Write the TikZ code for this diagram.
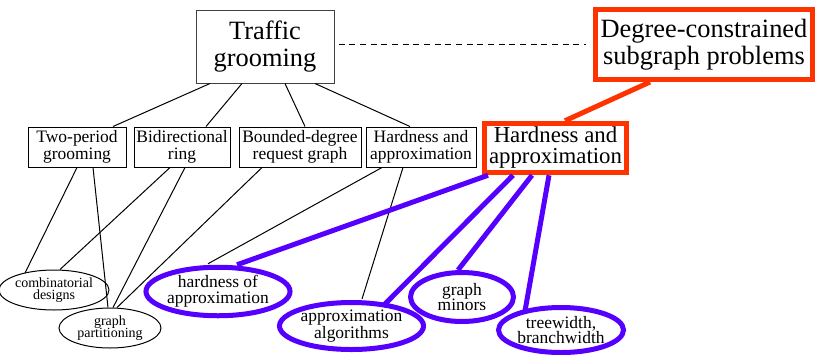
\documentclass[tikz,border=0pt]{standalone}
\usepackage{fontspec}
\setmainfont{Liberation Serif}
\newfontfamily\timesface{Liberation Serif}
\usetikzlibrary{shapes.geometric,calc}
\definecolor{hotred}{RGB}{255,51,0}
\definecolor{violetblue}{RGB}{85,0,255}
\def\px{0.75pt}
\tikzset{
  topbox/.style={draw=black!75, line width=0.75pt, inner sep=0pt, align=center,
    font=\timesface\fontsize{19.8}{20.7}\selectfont},
  redbox/.style={draw=hotred, line width=3.75pt, inner sep=0pt, align=center},
  subbox/.style={draw=black, line width=0.75pt, inner sep=0pt, align=center,
    minimum height=40*\px, font=\timesface\fontsize{13.1}{13}\selectfont},
  plainoval/.style={ellipse, draw=black, line width=0.75pt, inner sep=0pt, align=center,
    font=\timesface\fontsize{10.5}{9.3}\selectfont},
  blueoval/.style={ellipse, draw=violetblue, line width=3.75pt, inner sep=0pt, align=center,
    font=\timesface\fontsize{13.1}{11.8}\selectfont},
  thin/.style={line width=0.75pt},
  redlink/.style={draw=hotred, line width=3.75pt},
  bluelink/.style={draw=violetblue, line width=3.75pt},
}
\begin{document}
\begin{tikzpicture}[x=0.75pt, y=-0.75pt]
\useasboundingbox (0,0) rectangle (816,354);

% top level
\node[topbox, minimum width=138*\px, minimum height=73*\px] (tg) at (265,46.5) {Traffic\\grooming};
\node[redbox, minimum width=217*\px, minimum height=70*\px,
      font=\timesface\fontsize{19.8}{20}\selectfont] (dc) at (704,44.5) {Degree-constrained\\subgraph problems};

% second level
\node[subbox, minimum width=98*\px]  (tp) at (77,147)  {Two-period\\grooming};
\node[subbox, minimum width=96*\px]  (bd) at (182,147) {Bidirectional\\ring};
\node[subbox, minimum width=122*\px] (bg) at (300,147) {Bounded-degree\\request graph};
\node[subbox, minimum width=110*\px] (hs) at (421,147) {Hardness and\\approximation};
\node[redbox, minimum width=142*\px, minimum height=49.5*\px,
      font=\timesface\fontsize{17.1}{15.75}\selectfont] (hr) at (555.5,148) {Hardness and\\approximation};

% leaves
\node[plainoval, minimum width=92*\px,  minimum height=40*\px] (cd) at (54,290)  {combinatorial\\designs};
\node[plainoval, minimum width=102*\px, minimum height=40*\px] (gp) at (110,328) {graph\\partitioning};
\node[blueoval, minimum width=125*\px, minimum height=48.5*\px] (ha) at (218,291.5) {hardness of\\approximation};
\node[blueoval, minimum width=124*\px, minimum height=47*\px]   (aa) at (351.5,326) {approximation\\algorithms};
\node[blueoval, minimum width=103*\px, minimum height=49*\px]   (gm) at (462,297)   {graph\\minors};
\node[blueoval, minimum width=125*\px, minimum height=45*\px]   (tw) at (561,330)   {treewidth,\\branchwidth};

% links from the root
\draw[thin] ($(tg.south)+(-55,0)$) -- ($(tp.north)+(36,0)$);
\draw[thin] ($(tg.south)+(-23,0)$) -- ($(bd.north)+(24,0)$);
\draw[thin] ($(tg.south)+(20,0)$)  -- ($(bg.north)+(5,0)$);
\draw[thin] ($(tg.south)+(50,0)$)  -- ($(hs.north)+(-11,0)$);
\draw[thin, dash pattern=on 4.5pt off 3.5pt] ($(tg.east)+(4,-2.5)$) -- ($(dc.west)+(-7,-0.5)$);

% links to the leaves
\draw[thin] ($(tp.south)+(0,0)$)   -- ($(cd.center)+(-29,-17)$);
\draw[thin] ($(tp.south)+(16,0)$)  -- ($(gp.north)+(-2,0)$);
\draw[thin] ($(bd.south)+(-12,0)$) -- ($(cd.north)+(6,0)$);
\draw[thin] ($(bd.south)+(3,0)$)   -- ($(gp.north)+(3,0)$);
\draw[thin] ($(bg.south)+(-38,0)$) -- ($(gp.north)+(7,0)$);
\draw[thin] ($(hs.south)+(-39,0)$) -- ($(ha.north)+(-10,-1)$);
\draw[thin] ($(hs.south)+(-18,0)$) -- ($(aa.north)+(10.5,-1)$);

% highlighted branch
\draw[redlink] ($(dc.south)+(-54,0)$) -- ($(hr.north)+(9.5,0)$);
\draw[bluelink] ($(hr.south)+(-67.5,0)$) -- ($(ha.north)+(19,0)$);
\draw[bluelink] ($(hr.south)+(-42.5,0)$) -- ($(aa.center)+(31.5,-20)$);
\draw[bluelink] ($(hr.south)+(-23.5,0)$) -- ($(gm.north)+(-4,0)$);
\draw[bluelink] ($(hr.south)+(-6.5,0)$)  -- ($(tw.center)+(-36,-19)$);
\end{tikzpicture}
\end{document}
